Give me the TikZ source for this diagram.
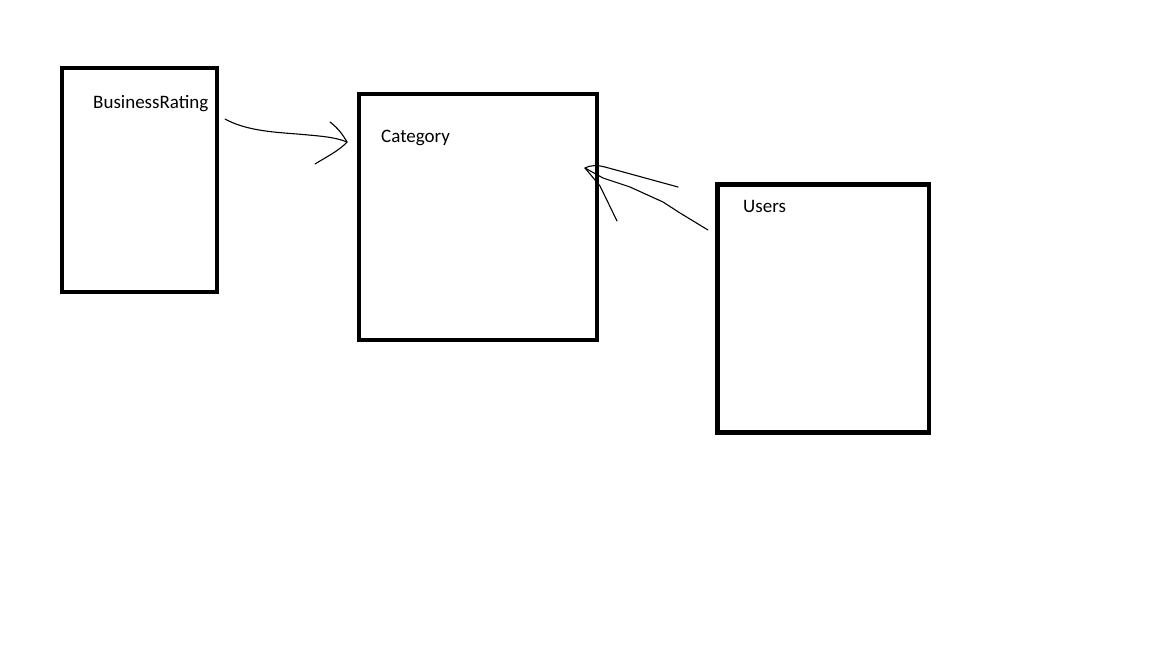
\documentclass[tikz,border=0pt]{standalone}
\usepackage{fontspec}
\setmainfont{Carlito}
\begin{document}
\begin{tikzpicture}[x=1pt,y=-1pt,
  tbl/.style={draw=black,line width=4.5pt,inner sep=0pt,fill=none},
  lbl/.style={anchor=base west,inner sep=0pt,font=\fontsize{19}{22}\selectfont},
  stroke/.style={line width=1.1pt,line cap=round,line join=round}]
\useasboundingbox[fill=white] (0,0) rectangle (1152,648);
% boxes
\node[tbl,minimum width=155pt,minimum height=224pt] (br) at (139.5,180) {};
\node[tbl,minimum width=238pt,minimum height=246pt] (cat) at (478,217) {};
\node[tbl,minimum width=211.5pt,minimum height=248pt] (usr) at (823.25,308.5) {};
% labels
\node[lbl] (brl) at (93,108) {BusinessRating};
\node[lbl] (catl) at (381,142) {Category};
\node[lbl] (usrl) at (743,212) {Users};
% arrow 1: BusinessRating -> Category
\coordinate (s1) at (225,119);
\coordinate (t1) at (347,142);
\coordinate (h1a) at (330,122);
\coordinate (h1b) at (315,164);
\draw[stroke] (s1) .. controls (245,130) and (270,132) .. (297,134) .. controls (320,136) and (335,137) .. (t1);
\draw[stroke] (h1a) .. controls (338,128) and (343,135) .. (t1);
\draw[stroke] (h1b) .. controls (328,156) and (340,150) .. (t1);
% arrow 2: Users -> Category
\coordinate (s2) at (708,230);
\coordinate (t2) at (585,168);
\coordinate (h2a) at (678,187);
\coordinate (h2b) at (617,221);
\draw[stroke] (s2) -- (680,213) -- (663,202) -- (630,187) -- (603,178) -- (t2);
\draw[stroke] (t2) .. controls (590,165) and (598,165) .. (605,167) -- (h2a);
\draw[stroke] (t2) -- (600,186) -- (h2b);
\end{tikzpicture}
\end{document}
